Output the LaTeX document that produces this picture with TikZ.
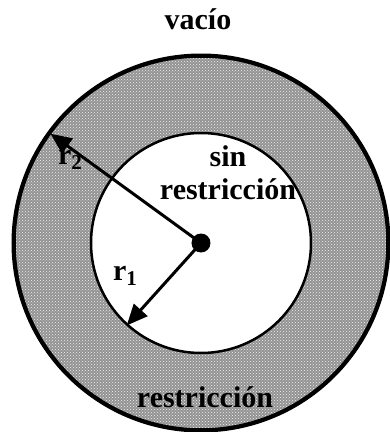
\documentclass[tikz,border=0pt]{standalone}
\usepackage{fontspec}
\setmainfont{Liberation Serif}
\usetikzlibrary{arrows.meta,patterns}
\tikzset{
  ring/.style={fill=gray!85, draw=black, line width=3pt},
  ringdots/.style={pattern=crosshatch dots, pattern color=white!90!gray},
  core/.style={fill=white, draw=black, line width=2.5pt},
  radius arrow/.style={line width=3pt, -{Triangle[length=21pt,width=18pt]}},
  label/.style={font=\fontsize{30}{32}\selectfont\bfseries, inner sep=0pt}
}
\newcommand{\subidx}[1]{\raisebox{-0.35ex}{\fontsize{21}{21}\selectfont #1}}
\begin{document}
\begin{tikzpicture}[x=1pt,y=1pt]
\useasboundingbox (-201,-189) rectangle (189,243);

% Ring and core
\coordinate (o) at (0,0);
\fill[ring] (o) circle (188);
\fill[ringdots] (o) circle (186);
\draw[black, line width=3.5pt] (o) circle (187);
\draw[core] (o) circle (110);
\node[circle, fill=black, minimum size=19pt, inner sep=0pt] (dot) at (o) {};

% Radii
\coordinate (r2tip) at (144:186);
\coordinate (r1tip) at (228:111);
\draw[radius arrow] (dot.center) -- (r2tip);
\draw[radius arrow] (dot.center) -- (r1tip);

% Labels
\node[label] (vacio) at (-3,224) {vacío};
\node[label, align=center, font=\fontsize{30}{33}\selectfont\bfseries] (libre) at (27,70) {sin\\restricción};
\node[label] (rtwo) at (-131,83) {r\subidx{2}};
\node[label] (rone) at (-76,-33) {r\subidx{1}};
\node[label] (restr) at (4,-154) {restricción};
\end{tikzpicture}
\end{document}
